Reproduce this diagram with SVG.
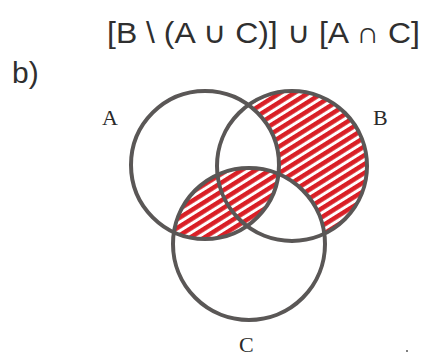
<svg xmlns="http://www.w3.org/2000/svg" width="428" height="358" viewBox="0 0 428 358">
<style>
.circ{fill:none;stroke:#5a5756;stroke-width:4}
.lbl{font-family:"Liberation Serif",serif;font-size:22px;fill:#2a2a2a}
.ttl{font-family:"Liberation Sans",Arial,sans-serif;fill:#2f2f2f}
</style>
<defs>
<pattern id="hatch" width="7.5" height="7.5" patternUnits="userSpaceOnUse" patternTransform="rotate(-32)">
<rect width="7.5" height="7.5" fill="#fff"/>
<rect width="7.5" height="4.5" fill="#d91f26"/>
</pattern>
<clipPath id="clipC"><circle cx="249" cy="244" r="76"/></clipPath>
<mask id="mB">
<rect width="428" height="358" fill="#000"/>
<circle cx="292" cy="166" r="75" fill="#fff"/>
<circle cx="205" cy="165" r="74" fill="#000"/>
<circle cx="249" cy="244" r="76" fill="#000"/>
</mask>
</defs>
<rect width="428" height="358" fill="#fff"/>
<text class="ttl" x="107" y="43" font-size="30" textLength="313" lengthAdjust="spacingAndGlyphs">[B \ (A ∪ C)] ∪ [A ∩ C]</text>
<text class="ttl" x="12" y="83" font-size="30">b)</text>
<g id="shading">
<rect width="428" height="358" fill="url(#hatch)" mask="url(#mB)"/>
<circle cx="205" cy="165" r="74" fill="url(#hatch)" clip-path="url(#clipC)"/>
</g>
<g id="A"><circle class="circ" cx="205" cy="165" r="74"/><text class="lbl" x="102" y="125">A</text></g>
<g id="B"><circle class="circ" cx="292" cy="166" r="75"/><text class="lbl" x="373" y="125">B</text></g>
<g id="C"><circle class="circ" cx="249" cy="244" r="76"/><text class="lbl" x="239" y="352">C</text></g>
<circle cx="407" cy="351" r="1" fill="#555"/>
</svg>
